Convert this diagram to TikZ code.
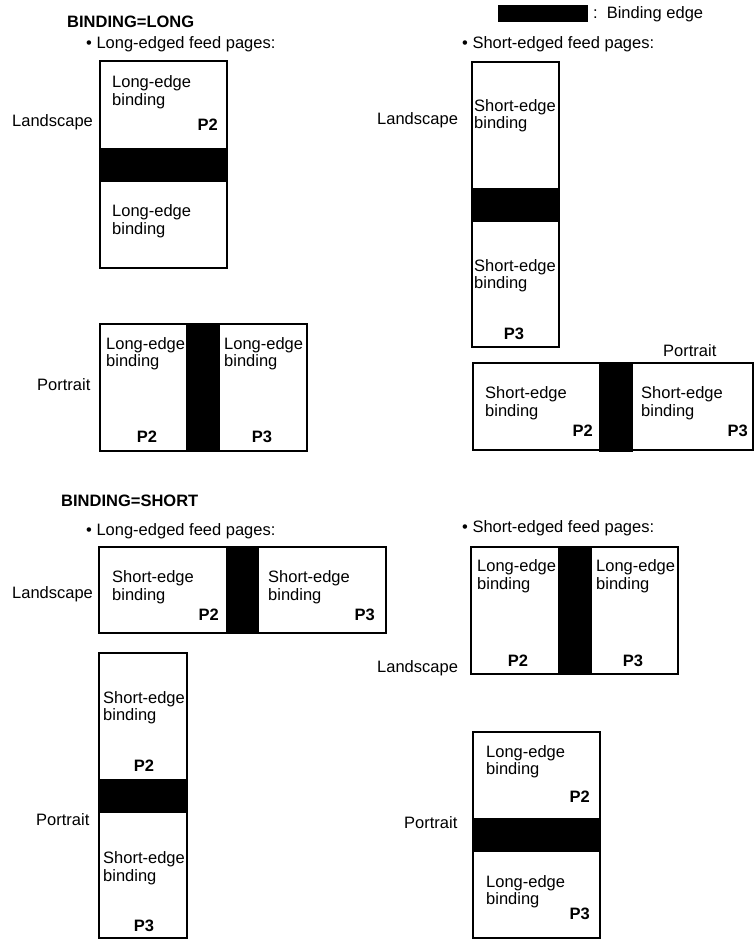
\documentclass[tikz,border=0pt]{standalone}
\usepackage{fontspec}
\setmainfont{Liberation Sans}
\begin{document}
\begin{tikzpicture}[x=1pt,y=-1pt,
  every node/.style={inner sep=0pt, font=\fontsize{16.5}{17.5}\selectfont},
  page/.style={draw=black, line width=2.2pt},
  band/.style={fill=black},
  lbl/.style={anchor=west, align=left, yshift=-1.5pt},
  pnum/.style={font=\fontsize{16.5}{17.5}\selectfont\bfseries},
  head/.style={anchor=west, font=\fontsize{16.5}{17.5}\selectfont\bfseries}]
\useasboundingbox (0,0) rectangle (755,939);

% headings
\node[head] (t1) at (67,22) {BINDING=LONG};
\node[lbl] (f1) at (86,43) {• Long-edged feed pages:};
\node[lbl] (f2) at (462,43) {• Short-edged feed pages:};
\node[head] (t2) at (61,501) {BINDING=SHORT};
\node[lbl] (f3) at (86,530) {• Long-edged feed pages:};
\node[lbl] (f4) at (462,527) {• Short-edged feed pages:};

% legend
\fill[band] (498,5) rectangle (588,22);
\node[lbl] (leg) at (593,13) {:\hspace{9pt}Binding edge};

% Box A
\draw[page] (100,61) rectangle (227,268);
\fill[band] (100,148) rectangle (228,182);
\node[lbl] (a1) at (112,90.5) {Long-edge\\binding};
\node[pnum, anchor=east] (a2) at (218,125) {P2};
\node[lbl] (a3) at (112,219.5) {Long-edge\\binding};
\node[lbl] (la) at (12,121) {Landscape};

% Box B
\draw[page] (472,62) rectangle (559,347);
\fill[band] (471,188) rectangle (559,222);
\node[lbl] (b1) at (474,114) {Short-edge\\binding};
\node[lbl] (b2) at (474,274) {Short-edge\\binding};
\node[pnum] (b3) at (514,334) {P3};
\node[lbl] (lb) at (377,119) {Landscape};

% Box C
\draw[page] (100,324) rectangle (307,451);
\fill[band] (186,324) rectangle (220,451);
\node[lbl] (c1) at (106,352) {Long-edge\\binding};
\node[lbl] (c2) at (224,352) {Long-edge\\binding};
\node[pnum] (c3) at (147,437) {P2};
\node[pnum] (c4) at (262,437) {P3};
\node[lbl] (lc) at (37,383) {Portrait};

% Box D
\draw[page] (473,363) rectangle (753,450);
\fill[band] (599,363) rectangle (633,452);
\node[lbl] (d1) at (485,401.5) {Short-edge\\binding};
\node[lbl] (d2) at (641,401.5) {Short-edge\\binding};
\node[pnum, anchor=east] (d3) at (593,431) {P2};
\node[pnum, anchor=east] (d4) at (748,431) {P3};
\node[lbl] (ld) at (663,349) {Portrait};

% Box E
\draw[page] (99,547) rectangle (386,633);
\fill[band] (226,547) rectangle (259,633);
\node[lbl] (e1) at (112,585.5) {Short-edge\\binding};
\node[lbl] (e2) at (268,585.5) {Short-edge\\binding};
\node[pnum, anchor=east] (e3) at (219,615) {P2};
\node[pnum, anchor=east] (e4) at (375,615) {P3};
\node[lbl] (le) at (12,593) {Landscape};

% Box F
\draw[page] (471,547) rectangle (678,674);
\fill[band] (558,547) rectangle (592,674);
\node[lbl] (g1) at (477,574.5) {Long-edge\\binding};
\node[lbl] (g2) at (596,574.5) {Long-edge\\binding};
\node[pnum] (g3) at (518,661) {P2};
\node[pnum] (g4) at (633,661) {P3};
\node[lbl] (lf) at (377,667) {Landscape};

% Box G
\draw[page] (99,653) rectangle (187,938);
\fill[band] (99,779) rectangle (188,813);
\node[lbl] (h1) at (103,706) {Short-edge\\binding};
\node[lbl] (h2) at (103,866.5) {Short-edge\\binding};
\node[pnum] (h3) at (144,766) {P2};
\node[pnum] (h4) at (144,926) {P3};
\node[lbl] (lg) at (36,818) {Portrait};

% Box H
\draw[page] (473,732) rectangle (600,938);
\fill[band] (473,818) rectangle (601,852);
\node[lbl] (i1) at (486,760) {Long-edge\\binding};
\node[lbl] (i2) at (486,890) {Long-edge\\binding};
\node[pnum, anchor=east] (i3) at (590,797) {P2};
\node[pnum, anchor=east] (i4) at (590,914) {P3};
\node[lbl] (lh) at (404,821) {Portrait};
\end{tikzpicture}
\end{document}
